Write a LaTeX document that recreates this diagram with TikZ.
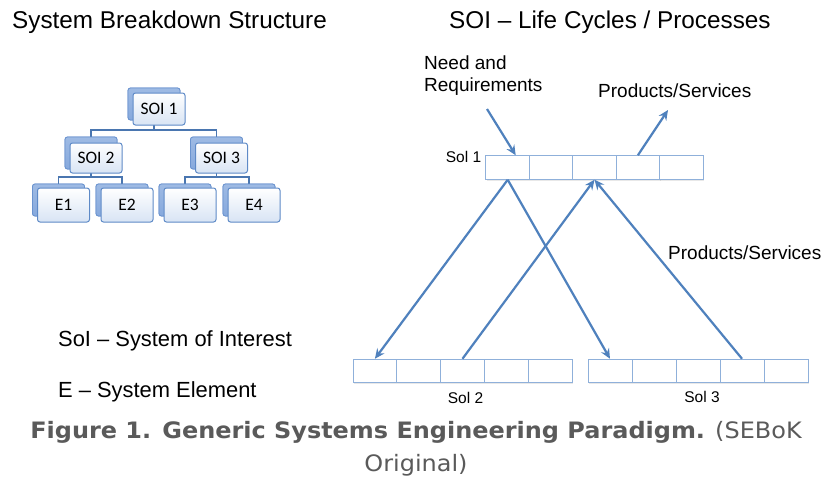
\documentclass[tikz,border=0pt]{standalone}
\usepackage{fontspec}
\setmainfont{Liberation Sans}
\newfontfamily\capfont{DejaVu Sans}
\newfontfamily\boxfont{Carlito}
\usetikzlibrary{arrows.meta,shadows,backgrounds,calc}
\definecolor{arrowblue}{HTML}{4F81BD}
\definecolor{cellblue}{HTML}{8FB0DA}
\definecolor{linkblue}{HTML}{4A76B0}
\definecolor{frontdraw}{HTML}{5E8AC7}
\definecolor{frontbot}{HTML}{D8E4F4}
\definecolor{backfill}{HTML}{86A9DD}
\definecolor{backdraw}{HTML}{6A93CF}
\definecolor{capgray}{HTML}{5A5A5A}
\tikzset{
  frontbox/.style={draw=frontdraw, line width=1pt, rounded corners=2.5pt,
    top color=white, bottom color=frontbot, minimum width=52pt,
    minimum height=32pt, inner sep=0pt, font=\boxfont\fontsize{17.5}{20}\selectfont},
  backbox/.style={draw=backdraw, line width=0.8pt, rounded corners=2.5pt,
    top color=backfill!80, bottom color=backfill, minimum width=52pt,
    minimum height=32pt, inner sep=0pt},
  link/.style={draw=linkblue, line width=1.8pt},
  cell/.style={draw=cellblue, line width=1pt, fill=white, minimum width=43.6pt,
    minimum height=23.5pt, inner sep=0pt,
    drop shadow={shadow xshift=0.8pt, shadow yshift=-1.5pt, opacity=0.18}},
  flow/.style={draw=arrowblue, line width=2.2pt,
    -{Stealth[length=10pt,width=9pt,inset=3.5pt]}},
  lbl/.style={font=\fontsize{19}{22}\selectfont, inner sep=0pt, align=left},
  small/.style={font=\fontsize{15.5}{18}\selectfont, inner sep=0pt},
  title/.style={font=\fontsize{24.3}{28}\selectfont, inner sep=0pt},
  legend/.style={font=\fontsize{21.9}{26}\selectfont, inner sep=0pt, anchor=west},
}
\begin{document}
\begin{tikzpicture}[x=1pt,y=-1pt]
\useasboundingbox (0,0) rectangle (840,479);
\fill[white] (0,0) rectangle (840,479);

% titles
\node[title, anchor=west] (t1) at (12,22) {System Breakdown Structure};
\node[title, anchor=west] (t2) at (449,22) {SOI -- Life Cycles / Processes};

% hierarchy: back (shadow) boxes
\foreach \n/\x/\y in {s1/159/109, s2/96/158, s3/221.5/158, e1/63.5/205, e2/127/205, e3/190/205, e4/254/205}{
  \node[backbox] (b\n) at (\x-5,\y-5) {};
}
% connectors
\coordinate (bar1) at (0,130);
\coordinate (bar2) at (0,177);
\draw[link] (bs1.center) -- (bs1.center |- bar1) -| (bs2.center);
\draw[link] (bs1.center |- bar1) -| (bs3.center);
\draw[link] (bs2.center) -- (bs2.center |- bar2) -| (be1.center);
\draw[link] (bs2.center |- bar2) -| (be2.center);
\draw[link] (bs3.center) -- (bs3.center |- bar2) -| (be3.center);
\draw[link] (bs3.center |- bar2) -| (be4.center);
% redraw back boxes over links
\foreach \n/\x/\y in {s1/159/109, s2/96/158, s3/221.5/158, e1/63.5/205, e2/127/205, e3/190/205, e4/254/205}{
  \node[backbox] at (\x-5,\y-5) {};
}
% front boxes
\node[frontbox] (s1) at (159,109) {SOI 1};
\node[frontbox, minimum height=30pt] (s2) at (96,158) {SOI 2};
\node[frontbox, minimum height=30pt] (s3) at (221.5,158) {SOI 3};
\node[frontbox, minimum height=34pt] (e1) at (63.5,205) {E1};
\node[frontbox, minimum height=34pt] (e2) at (127,205) {E2};
\node[frontbox, minimum height=34pt] (e3) at (190,205) {E3};
\node[frontbox, minimum height=34pt] (e4) at (254,205) {E4};

% legend
\node[legend] (l1) at (58,341) {SoI -- System of Interest};
\node[legend] (l2) at (58,392) {E -- System Element};

% life cycle cells
\foreach \i/\c in {0/a,1/b,2/c,3/d,4/e}{
  \node[cell] (c1\c) at (507.7+43.4*\i,167.5) {};
  \node[cell, minimum width=43.8pt] (c2\c) at (374.9+43.8*\i,371) {};
  \node[cell, minimum width=44pt] (c3\c) at (610+44*\i,371) {};
}
\node[small, anchor=east] (sol1) at ([xshift=-4pt,yshift=-2pt]c1a.north west) {Sol 1};
\node[small] (sol2) at ($(c2c.south)+(3,15)$) {Sol 2};
\node[small] (sol3) at ($(c3c.south)+(4,14)$) {Sol 3};

% texts
\node[lbl, anchor=west] (need) at (424,76) {Need and\\Requirements};
\node[lbl, anchor=west] (ps1) at (598,91) {Products/Services};
\node[lbl, anchor=west] (ps2) at (668,253) {Products/Services};

% arrows
\coordinate (needtail) at (487,109);
\coordinate (pstip) at (668,110);
\draw[flow] (needtail) -- ([xshift=8pt]c1a.north);
\draw[flow] (c1d.north) -- (pstip);
\draw[flow] (c1a.south) -- (c2a.north);
\draw[flow] (c1a.south) -- (c3a.north);
\draw[flow] (c2c.north) -- (c1c.south);
\draw[flow] (c3d.north) -- (c1c.south);

% caption
\node[font=\capfont\fontsize{22.6}{33}\selectfont, text=capgray, inner sep=0pt, xscale=1.06] (cap1) at (416,432)
  {\textbf{Figure 1. Generic Systems Engineering Paradigm.} (SEBoK};
\node[font=\capfont\fontsize{22.6}{33}\selectfont, text=capgray, inner sep=0pt, xscale=1.06] (cap2) at (cap1.center |- 0,465)
  {Original)};
\end{tikzpicture}
\end{document}
